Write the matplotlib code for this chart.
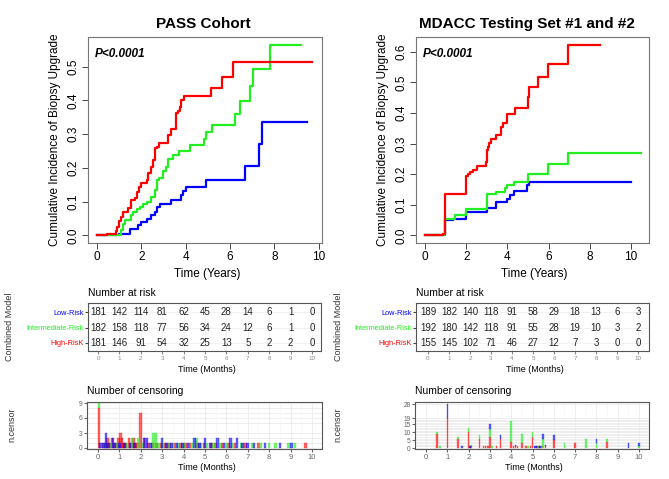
import matplotlib.pyplot as plt

plt.rcParams['font.family'] = ['Liberation Sans', 'DejaVu Sans']

W, H = 669, 479
RED, GREEN, BLUE = '#FF0000', '#22EE22', '#0000FF'
GRID = '#EBEBEB'

# ---- cumulative incidence curves (time in years) ----
pass_high_t = [0, 0.47, 0.86, 0.92, 1.01, 1.10, 1.19, 1.41, 1.56, 1.71, 1.79, 1.91, 2.01, 2.24,
               2.31, 2.42, 2.51, 2.61, 2.69, 2.81, 3.21, 3.36, 3.56, 3.67, 3.74, 3.81, 3.92,
               5.14, 5.62, 6.14, 9.71]
pass_high_v = [0, 0.005, 0.012, 0.025, 0.043, 0.055, 0.068, 0.080, 0.104, 0.110, 0.130, 0.144,
               0.156, 0.164, 0.184, 0.204, 0.224, 0.258, 0.263, 0.275, 0.298, 0.315, 0.363,
               0.370, 0.380, 0.400, 0.413, 0.437, 0.470, 0.515, 0.515]
pass_mid_t = [0, 1.07, 1.19, 1.26, 1.52, 1.64, 1.79, 1.94, 2.06, 2.24, 2.46, 2.61, 2.69, 2.81,
              2.96, 3.11, 3.21, 3.44, 3.71, 4.22, 4.82, 4.94, 5.17, 6.22, 6.47, 6.89, 7.04,
              7.79, 9.22]
pass_mid_v = [0, 0.015, 0.033, 0.045, 0.060, 0.070, 0.077, 0.085, 0.094, 0.100, 0.114, 0.134,
              0.164, 0.170, 0.190, 0.204, 0.226, 0.238, 0.250, 0.267, 0.285, 0.305, 0.328,
              0.360, 0.398, 0.444, 0.492, 0.565, 0.565]
pass_low_t = [0, 1.01, 1.49, 1.86, 2.01, 2.27, 2.46, 2.61, 2.72, 2.84, 3.36, 3.81, 3.89, 4.04,
              4.91, 6.70, 7.31, 7.43, 9.47]
pass_low_v = [0, 0.005, 0.020, 0.030, 0.040, 0.050, 0.060, 0.070, 0.083, 0.093, 0.104, 0.120,
              0.132, 0.144, 0.164, 0.207, 0.271, 0.336, 0.336]

mda_high_t = [0, 0.89, 0.97, 1.97, 2.06, 2.18, 2.31, 2.51, 2.96, 2.99, 3.04, 3.09, 3.19, 3.45,
              3.67, 3.80, 3.96, 4.37, 5.02, 5.05, 5.47, 5.99, 6.96, 8.50]
mda_high_v = [0, 0.005, 0.136, 0.193, 0.200, 0.207, 0.215, 0.227, 0.238, 0.280, 0.289, 0.302,
              0.315, 0.327, 0.355, 0.368, 0.396, 0.415, 0.453, 0.485, 0.518, 0.559, 0.622, 0.622]
mda_mid_t = [0, 0.97, 1.46, 1.99, 2.99, 3.45, 3.88, 3.96, 4.34, 5.02, 5.99, 6.96, 10.47]
mda_mid_v = [0, 0.055, 0.065, 0.087, 0.134, 0.142, 0.155, 0.164, 0.175, 0.202, 0.232, 0.269, 0.269]
mda_low_t = [0, 0.97, 1.38, 1.99, 2.99, 3.45, 3.96, 4.13, 4.34, 4.94, 5.05, 9.98]
mda_low_v = [0, 0.049, 0.055, 0.076, 0.090, 0.109, 0.120, 0.131, 0.144, 0.164, 0.175, 0.175]

# ---- number at risk ----
risk_times = list(range(11))
risk_labels = ['Low-Risk', 'Intermediate-Risk', 'High-RisK']
pass_risk_low = [181, 142, 114, 81, 62, 45, 28, 14, 6, 1, 0]
pass_risk_mid = [182, 158, 118, 77, 56, 34, 24, 12, 6, 1, 0]
pass_risk_high = [181, 146, 91, 54, 32, 25, 13, 5, 2, 2, 0]
mda_risk_low = [189, 182, 140, 118, 91, 58, 29, 18, 13, 6, 3]
mda_risk_mid = [192, 180, 142, 118, 91, 55, 28, 19, 10, 3, 2]
mda_risk_high = [155, 145, 102, 71, 46, 27, 12, 7, 3, 0, 0]

# ---- number of censoring ----
pass_cens_high_t = [0.05, 0.2, 0.35, 0.45, 0.55, 0.65, 0.75, 0.85, 0.95, 1.05, 1.12, 1.2, 1.3,
                    1.45, 1.55, 1.65, 1.75, 1.85, 2.0, 2.2, 2.35, 2.55, 2.75, 2.95, 3.15, 3.35,
                    3.6, 3.85, 4.1, 4.3, 4.65, 4.95, 5.3, 5.5, 5.8, 6.1, 6.4, 6.9, 7.5, 9.7]
pass_cens_high_n = [8, 1, 1, 2, 1, 2, 1, 1, 2, 3, 2, 1, 1, 2, 1, 2, 1, 1, 7, 2, 1, 1, 1, 1, 1, 1,
                    1, 1, 1, 1, 1, 1, 1, 1, 1, 1, 1, 1, 1, 1]
pass_cens_mid_t = [0.05, 0.3, 0.6, 0.9, 1.35, 1.6, 1.9, 2.1, 2.6, 2.72, 2.85, 3.05, 3.3, 3.5,
                   3.75, 4.0, 4.4, 4.6, 4.8, 5.1, 5.4, 5.7, 6.0, 6.3, 6.7, 7.2, 7.6, 8.0, 8.3,
                   8.9, 9.2]
pass_cens_mid_n = [1, 1, 1, 1, 1, 2, 2, 1, 3, 3, 1, 1, 1, 1, 1, 1, 1, 2, 1, 1, 1, 1, 1, 1, 1, 1,
                   1, 1, 1, 1, 1]
pass_cens_low_t = [0.1, 0.25, 0.37, 0.5, 0.7, 0.8, 1.0, 1.25, 1.5, 1.7, 2.15, 2.3, 2.45, 3.0,
                   3.2, 3.45, 3.7, 3.95, 4.2, 4.5, 4.75, 5.0, 5.25, 5.6, 5.9, 6.2, 6.5, 6.75,
                   7.0, 7.3, 7.8, 8.5, 9.05]
pass_cens_low_n = [1, 1, 3, 1, 2, 1, 1, 1, 1, 1, 2, 2, 1, 2, 1, 1, 1, 1, 1, 2, 1, 2, 1, 2, 1, 2,
                   2, 1, 1, 1, 1, 1, 1]
pass_cens_ticks = [0, 3, 6, 9]
pass_cens_grid = [0, 1, 2, 3, 5, 6, 7, 8, 9]

mda_cens_high_t = [0.5, 1.0, 1.5, 2.0, 2.1, 2.5, 2.7, 2.8, 2.9, 3.0, 3.3, 3.5, 4.0, 4.1, 4.2,
                   4.3, 4.5, 4.7, 4.9, 5.0, 5.2, 5.3, 5.45, 5.6, 6.0, 7.0, 8.5]
mda_cens_high_n = [9, 19, 6, 10, 1, 6, 1, 1, 1, 7, 1, 6, 4, 1, 1, 1, 3, 1, 1, 7, 1, 1, 1, 1, 5,
                   3, 4]
mda_cens_mid_t = [0.5, 0.65, 1.5, 2.0, 2.1, 2.5, 3.0, 3.1, 4.0, 4.5, 4.8, 5.0, 5.25, 5.5, 6.5,
                  7.5, 8.0, 8.5, 10.0]
mda_cens_mid_n = [1, 1, 1, 3, 1, 2, 5, 1, 13, 6, 1, 3, 1, 6, 3, 6, 3, 2, 1]
mda_cens_low_t = [1.0, 1.7, 2.05, 3.0, 3.5, 4.2, 5.1, 5.15, 5.35, 5.5, 5.6, 6.0, 8.0, 9.5, 10.0]
mda_cens_low_n = [9, 1, 1, 3, 2, 1, 1, 1, 1, 3, 1, 3, 3, 3, 2]
mda_cens_ticks = [0, 5, 10, 15, 19, 28]
mda_cens_grid = [0, 1, 2, 3, 4, 5, 6, 7, 8, 9, 10, 11, 12, 13, 14, 15, 16, 17, 18, 19, 28]

fig = plt.figure(figsize=(W / 100, H / 100), dpi=100)


def add_box(l, t, r, b):
    return fig.add_axes([l / W, 1 - b / H, (r - l) / W, (b - t) / H])


def ftext(x, y, s, **kw):
    fig.text(x / W, 1 - y / H, s, **kw)


def curve_panel(x0, x1, xlim, ylim, ymax, curves, title, cx):
    ax = add_box(x0, 37, x1, 243)
    for t, v, c in curves:
        ax.step(t, v, where='post', color=c, lw=1.6)
    ax.set_xlim(*xlim)
    ax.set_ylim(*ylim)
    ax.set_xticks(range(0, 11, 2))
    yt = [i / 10 for i in range(ymax + 1)]
    ax.set_yticks(yt)
    ax.set_yticklabels(['%.1f' % y for y in yt], rotation=90, va='center')
    ax.tick_params(labelsize=8.5, length=4, width=0.7, color='#444444', pad=2)
    for s in ax.spines.values():
        s.set_color('#777777')
        s.set_linewidth(0.8)
    ftext(cx, 24, title, ha='center', va='center', fontsize=11, fontweight='bold')
    ftext(x0 + 7, 54, 'P<0.0001', ha='left', va='center', fontsize=8.5,
          fontweight='bold', fontstyle='italic')
    ftext((x0 + x1) / 2 + 2, 274, 'Time (Years)', ha='center', va='center', fontsize=8.5)
    ftext(x0 - 33, 140, 'Cumulative Incidence of Biopsy Upgrade', ha='center',
          va='center', rotation=90, fontsize=8.5)


def risk_panel(x0, x1, xlim, rows, lx):
    ax = add_box(x0, 303, x1, 351)
    ax.set_xlim(*xlim)
    ax.set_ylim(0.47, 3.6)
    colors = [BLUE, GREEN, RED]
    for k, (vals, c) in enumerate(zip(rows, colors)):
        y = 3 - k
        for t, n in zip(risk_times, vals):
            ax.text(t, y, str(n), ha='center', va='center', fontsize=7, color='#222222')
    ax.set_xticks(risk_times)
    ax.set_yticks([3, 2, 1])
    ax.set_yticklabels(risk_labels)
    for lab, c in zip(ax.get_yticklabels(), colors):
        lab.set_color(c)
    ax.tick_params(axis='y', labelsize=5.3, length=2, pad=1, color='#444444')
    ax.tick_params(axis='x', labelsize=4.5, length=2, pad=1.5, color='#888888',
                   labelcolor='#888888')
    ax.grid(color=GRID, lw=0.5)
    ax.set_axisbelow(True)
    for s in ax.spines.values():
        s.set_color('#555555')
        s.set_linewidth(0.8)
    ftext(x0, 293, 'Number at risk', ha='left', va='center', fontsize=7.5)
    ftext((x0 + x1) / 2 + 2, 370, 'Time (Months)', ha='center', va='center', fontsize=6.5)
    ftext(lx, 327, 'Combined Model', ha='center', va='center', rotation=90, fontsize=6.5,
          color='#333333')


def censor_panel(x0, x1, xlim, ylim, groups, width, yticks, ygrid, lx):
    ax = add_box(x0, 402, x1, 449)
    for y in ygrid:
        ax.axhline(y, color=GRID, lw=0.6, zorder=0)
    base = {}
    for times, counts, c in groups:
        bottoms = [base.get(t, 0) for t in times]
        ax.bar(times, counts, width=width, bottom=bottoms, color=c, alpha=0.6,
               edgecolor=c, lw=0.3, zorder=2)
        for t, n in zip(times, counts):
            base[t] = base.get(t, 0) + n
    ax.set_xlim(*xlim)
    ax.set_ylim(*ylim)
    ax.set_xticks(range(11))
    ax.set_xticks([i + 0.5 for i in range(10)], minor=True)
    ax.set_yticks(yticks)
    ax.grid(which='major', axis='x', color=GRID, lw=0.6)
    ax.grid(which='minor', axis='x', color='#F4F4F4', lw=0.4)
    ax.set_axisbelow(True)
    ax.tick_params(which='minor', length=0)
    ax.tick_params(axis='y', labelsize=4.8, length=2, pad=1, color='#666666',
                   labelcolor='#666666')
    ax.tick_params(axis='x', labelsize=5.5, length=2, pad=1.5, color='#666666',
                   labelcolor='#666666')
    for s in ax.spines.values():
        s.set_color('#555555')
        s.set_linewidth(0.8)
    ftext(x0, 391, 'Number of censoring', ha='left', va='center', fontsize=7.5)
    ftext((x0 + x1) / 2 + 2, 468, 'Time (Months)', ha='center', va='center', fontsize=6.5)
    ftext(lx, 425, 'n.censor', ha='center', va='center', rotation=90, fontsize=6.5,
          color='#333333')


curve_panel(88, 322, (-0.4, 10.15), (-0.0226, 0.588), 5,
            [(pass_low_t, pass_low_v, BLUE), (pass_mid_t, pass_mid_v, GREEN),
             (pass_high_t, pass_high_v, RED)], 'PASS Cohort', 203)
curve_panel(416, 649, (-0.44, 10.87), (-0.025, 0.648), 6,
            [(mda_low_t, mda_low_v, BLUE), (mda_mid_t, mda_mid_v, GREEN),
             (mda_high_t, mda_high_v, RED)], 'MDACC Testing Set #1 and #2', 527)

risk_panel(88, 321, (-0.47, 10.42), [pass_risk_low, pass_risk_mid, pass_risk_high], 10)
risk_panel(416, 649, (-0.57, 10.52), [mda_risk_low, mda_risk_mid, mda_risk_high], 338)

censor_panel(87, 322, (-0.51, 10.47), (-0.2, 9.2),
             [(pass_cens_high_t, pass_cens_high_n, RED),
              (pass_cens_mid_t, pass_cens_mid_n, GREEN),
              (pass_cens_low_t, pass_cens_low_n, BLUE)], 0.12,
             pass_cens_ticks, pass_cens_grid, 12)
censor_panel(415, 649, (-0.52, 10.47), (-0.6, 29.3),
             [(mda_cens_high_t, mda_cens_high_n, RED),
              (mda_cens_mid_t, mda_cens_mid_n, GREEN),
              (mda_cens_low_t, mda_cens_low_n, BLUE)], 0.075,
             mda_cens_ticks, mda_cens_grid, 338)

fig.savefig('out.png', dpi=100)
